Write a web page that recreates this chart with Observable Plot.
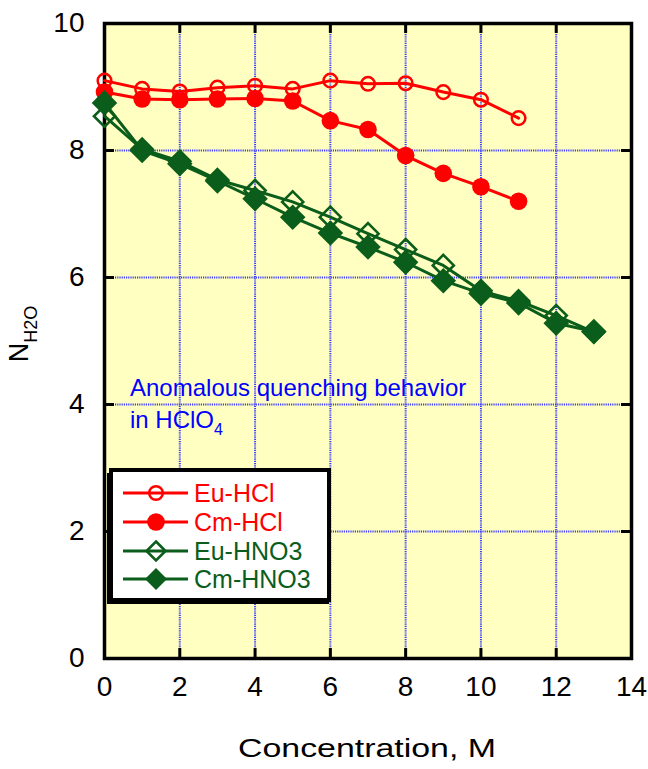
<!DOCTYPE html>
<html>
<head>
<meta charset="utf-8">
<script src="https://cdn.jsdelivr.net/npm/d3@7"></script>
<script src="https://cdn.jsdelivr.net/npm/@observablehq/plot@0.6"></script>
<style>
  html, body { margin: 0; padding: 0; background: #fff; }
</style>
</head>
<body>
<div id="chart"></div>
<script>
// Hydration number N_H2O versus acid concentration (M)
const hclConc = [0, 1, 2, 3, 4, 5, 6, 7, 8, 9, 10, 11];
const euHCl = [9.10, 8.97, 8.93, 8.99, 9.02, 8.97, 9.10, 9.05, 9.06, 8.92, 8.80, 8.51];
const cmHCl = [8.92, 8.81, 8.80, 8.81, 8.82, 8.78, 8.47, 8.33, 7.92, 7.64, 7.43, 7.20];

const hno3Conc = [0, 1, 2, 3, 4, 5, 6, 7, 8, 9, 10, 11, 12, 13];
const euHNO3 = [8.54, 8.02, 7.83, 7.54, 7.37, 7.19, 6.95, 6.69, 6.44, 6.19, 5.79, 5.63, 5.40, 5.14];
const cmHNO3 = [8.75, 8.00, 7.79, 7.52, 7.24, 6.95, 6.70, 6.48, 6.24, 5.95, 5.75, 5.60, 5.28, 5.15];

const seriesNames = ["Eu-HCl", "Cm-HCl", "Eu-HNO3", "Cm-HNO3"];
const xTicks = [0, 2, 4, 6, 8, 10, 12, 14];
const yTicks = [0, 2, 4, 6, 8, 10];

const RED = "#ff0000";
const GREEN = "#0a5d1a";
const GRID = "#3c3cff";

const toRows = (xs, ys) => xs.map((x, i) => ({x, y: ys[i]}));
const rowsEuHCl = toRows(hclConc, euHCl);
const rowsCmHCl = toRows(hclConc, cmHCl);
const rowsEuHNO3 = toRows(hno3Conc, euHNO3);
const rowsCmHNO3 = toRows(hno3Conc, cmHNO3);

const W = 648, H = 769;
const mL = 104, mR = 17, mT = 23, mB = 111;
const innerW = W - mL - mR, innerH = H - mT - mB;
const tickLen = 10;
const LW = 3;

const plot = Plot.plot({
  width: W,
  height: H,
  marginLeft: mL,
  marginRight: mR,
  marginTop: mT,
  marginBottom: mB,
  style: {fontFamily: "'Liberation Sans', Arial, sans-serif", fontSize: "28px", color: "#000", background: "#fff"},
  x: {domain: [0, 14]},
  y: {domain: [0, 10]},
  marks: [
    Plot.frame({fill: "#ffffc2", stroke: null}),
    Plot.gridX(xTicks, {stroke: GRID, strokeOpacity: 1, strokeWidth: 2, strokeDasharray: "1.2,1"}),
    Plot.gridY(yTicks, {stroke: GRID, strokeOpacity: 1, strokeWidth: 2, strokeDasharray: "1.2,1"}),
    // inward ticks on all four sides
    Plot.tickX(xTicks, {x: d => d, insetTop: innerH - tickLen, stroke: "#000", strokeWidth: 3}),
    Plot.tickX(xTicks, {x: d => d, insetBottom: innerH - tickLen, stroke: "#000", strokeWidth: 3}),
    Plot.tickY(yTicks, {y: d => d, insetRight: innerW - tickLen, stroke: "#000", strokeWidth: 3}),
    Plot.tickY(yTicks, {y: d => d, insetLeft: innerW - tickLen, stroke: "#000", strokeWidth: 3}),
    Plot.frame({stroke: "#000", strokeWidth: 3.5}),
    // series
    Plot.line(rowsEuHCl, {x: "x", y: "y", stroke: RED, strokeWidth: LW}),
    Plot.dot(rowsEuHCl, {x: "x", y: "y", r: 6.8, stroke: RED, strokeWidth: 2.5, fill: "none"}),
    Plot.line(rowsCmHCl, {x: "x", y: "y", stroke: RED, strokeWidth: LW}),
    Plot.dot(rowsCmHCl, {x: "x", y: "y", r: 8.8, fill: RED, stroke: null}),
    Plot.line(rowsEuHNO3, {x: "x", y: "y", stroke: GREEN, strokeWidth: LW}),
    Plot.dot(rowsEuHNO3, {x: "x", y: "y", symbol: "diamond2", r: 9.5, stroke: GREEN, strokeWidth: 2.6, fill: "none"}),
    Plot.line(rowsCmHNO3, {x: "x", y: "y", stroke: GREEN, strokeWidth: LW}),
    Plot.dot(rowsCmHNO3, {x: "x", y: "y", symbol: "diamond2", r: 11.5, fill: GREEN, stroke: null}),
    Plot.axisX(xTicks, {tickSize: 0, tickPadding: 18, label: null, fontSize: 28, tickFormat: d => String(d)}),
    Plot.axisY(yTicks, {tickSize: 0, tickPadding: 20, label: null, fontSize: 28, tickFormat: d => String(d)})
  ]
});

document.getElementById("chart").appendChild(plot);

const svg = d3.select(plot);
const font = "'Liberation Sans', Arial, sans-serif";

// x-axis title
svg.append("text")
  .attr("x", 367).attr("y", 757)
  .attr("text-anchor", "middle")
  .attr("font-family", font).attr("font-size", 25)
  .attr("textLength", 258).attr("lengthAdjust", "spacingAndGlyphs")
  .attr("fill", "#000")
  .text("Concentration, M");

// y-axis title N with H2O subscript
const yt = svg.append("text")
  .attr("transform", "translate(28,334) rotate(-90)")
  .attr("text-anchor", "middle")
  .attr("font-family", font).attr("fill", "#000");
yt.append("tspan").attr("font-size", 27).text("N");
yt.append("tspan").attr("font-size", 18).attr("dy", 9).text("H2O");

// annotation
const note = svg.append("g")
  .attr("text-anchor", "start")
  .attr("font-family", font).attr("font-size", 24).attr("fill", "#0000ff");
note.append("text").attr("x", 130).attr("y", 396).text("Anomalous quenching behavior");
const l2 = note.append("text").attr("x", 130).attr("y", 428);
l2.append("tspan").text("in HClO");
l2.append("tspan").attr("font-size", 16).attr("dy", 7).text("4");

// legend box with drop shadow
const lg = svg.append("g").attr("font-family", font).attr("text-anchor", "start");
lg.append("rect").attr("x", 107).attr("y", 473).attr("width", 222).attr("height", 131).attr("fill", "#000");
lg.append("rect").attr("x", 111).attr("y", 470).attr("width", 218).attr("height", 130)
  .attr("fill", "#fff").attr("stroke", "#000").attr("stroke-width", 4);

const legendRows = [
  {name: seriesNames[0], color: RED, kind: "openCircle"},
  {name: seriesNames[1], color: RED, kind: "filledCircle"},
  {name: seriesNames[2], color: GREEN, kind: "openDiamond"},
  {name: seriesNames[3], color: GREEN, kind: "filledDiamond"}
];
const rowY = [493, 522, 551, 579];
legendRows.forEach((row, i) => {
  const cy = rowY[i];
  lg.append("line").attr("x1", 123).attr("x2", 188).attr("y1", cy).attr("y2", cy)
    .attr("stroke", row.color).attr("stroke-width", LW);
  if (row.kind === "openCircle") {
    lg.append("circle").attr("cx", 156).attr("cy", cy).attr("r", 6.8)
      .attr("fill", "none").attr("stroke", row.color).attr("stroke-width", 2.5);
  } else if (row.kind === "filledCircle") {
    lg.append("circle").attr("cx", 156).attr("cy", cy).attr("r", 8.8).attr("fill", row.color);
  } else {
    const s = row.kind === "openDiamond" ? 9.5 : 11;
    lg.append("path")
      .attr("d", `M${156},${cy - s}L${156 + s},${cy}L${156},${cy + s}L${156 - s},${cy}Z`)
      .attr("fill", row.kind === "openDiamond" ? "none" : row.color)
      .attr("stroke", row.kind === "openDiamond" ? row.color : "none")
      .attr("stroke-width", 2.6);
  }
  lg.append("text").attr("x", 194).attr("y", cy + 9)
    .attr("font-size", 25).attr("fill", row.color).text(row.name);
});
</script>
</body>
</html>
